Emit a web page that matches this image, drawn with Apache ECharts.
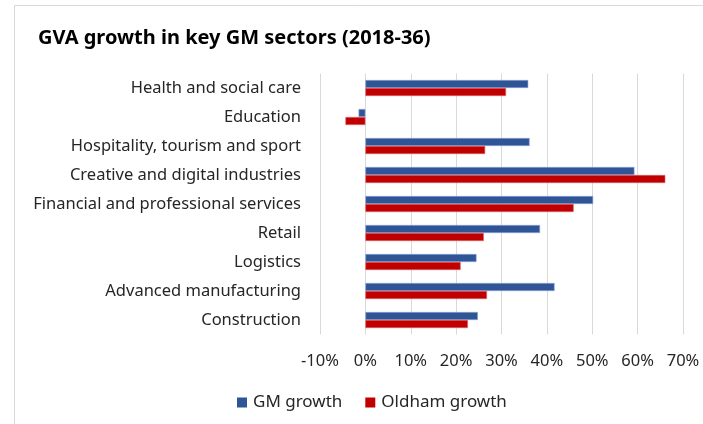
<!DOCTYPE html>
<html>
<head>
<meta charset="utf-8">
<script src="https://cdn.jsdelivr.net/npm/echarts@6/dist/echarts.min.js"></script>
<style>
  html, body { margin: 0; padding: 0; background: #fff; }
  #chart { width: 703px; height: 424px; }
</style>
</head>
<body>
<div id="chart"></div>
<script>
// Sector list, top to bottom
var sectors = [
  'Health and social care',
  'Education',
  'Hospitality, tourism and sport',
  'Creative and digital industries',
  'Financial and professional services',
  'Retail',
  'Logistics',
  'Advanced manufacturing',
  'Construction'
];
// GVA growth 2018-36, percent
var gmGrowth     = [35.9, -1.5, 36.2, 59.3, 50.2, 38.5, 24.5, 41.7, 24.8];
var oldhamGrowth = [31.0, -4.4, 26.4, 66.1, 45.9, 26.1, 21.0, 26.8, 22.6];
var seriesNames = ['GM growth', 'Oldham growth'];

var FONT = 'Noto Sans';
var chart = echarts.init(document.getElementById('chart'));
chart.setOption({
  animation: false,
  backgroundColor: '#fff',
  textStyle: { fontFamily: FONT },
  title: {
    text: 'GVA growth in key GM sectors (2018-36)',
    left: 33,
    top: 23,
    textStyle: { fontFamily: FONT, fontSize: 20, fontWeight: 'bold', color: '#000' }
  },
  graphic: [{
    type: 'rect',
    shape: { x: 14.5, y: 5.5, width: 720, height: 440 },
    style: { fill: 'none', stroke: '#d9d9d9', lineWidth: 1 },
    silent: true
  }],
  legend: {
    data: seriesNames,
    bottom: 8,
    left: 232,
    icon: 'rect',
    itemWidth: 10,
    itemHeight: 10,
    itemGap: 23,
    itemStyle: { borderWidth: 0 },
    textStyle: { fontFamily: FONT, fontSize: 17, color: '#262626', padding: [0, 0, 0, 1] }
  },
  grid: { left: 320, right: 20, top: 73.5, bottom: 89.5, containLabel: false },
  xAxis: {
    type: 'value',
    min: -10,
    max: 70,
    interval: 10,
    axisLine: { show: false },
    axisTick: { show: false },
    splitLine: { lineStyle: { color: '#d9d9d9', width: 1 } },
    axisLabel: { formatter: '{value}%', fontSize: 16.5, color: '#262626', margin: 18, fontFamily: FONT }
  },
  yAxis: {
    type: 'category',
    data: sectors,
    inverse: true,
    axisLine: { show: false },
    axisTick: { show: false },
    axisLabel: { fontSize: 16.5, color: '#262626', margin: 19, fontFamily: FONT }
  },
  series: [
    {
      name: seriesNames[0],
      type: 'bar',
      data: gmGrowth,
      barWidth: 8,
      barGap: '0%',
      itemStyle: { color: '#2F5597', borderColor: '#8EA9DB', borderWidth: 0.6 }
    },
    {
      name: seriesNames[1],
      type: 'bar',
      data: oldhamGrowth,
      barWidth: 8,
      barGap: '0%',
      itemStyle: { color: '#C00000', borderColor: '#E06666', borderWidth: 0.6 }
    }
  ]
});
</script>
</body>
</html>
